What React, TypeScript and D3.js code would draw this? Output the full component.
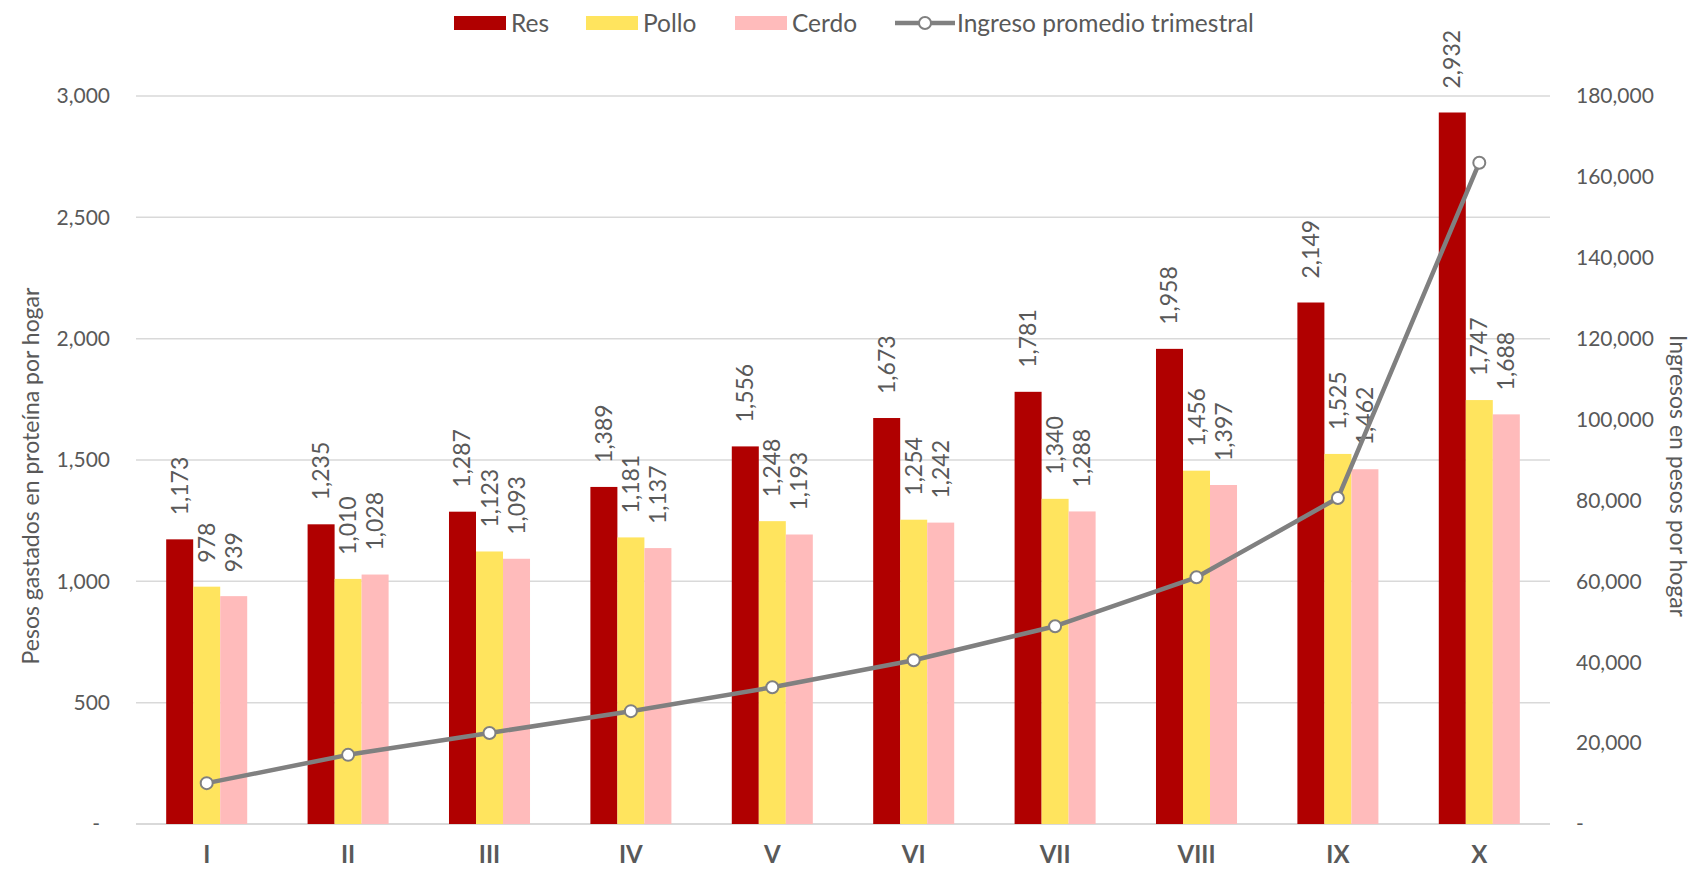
import React from "react";
import * as d3 from "d3";

const categories = ["I", "II", "III", "IV", "V", "VI", "VII", "VIII", "IX", "X"];
const res = [1173, 1235, 1287, 1389, 1556, 1673, 1781, 1958, 2149, 2932];
const pollo = [978, 1010, 1123, 1181, 1248, 1254, 1340, 1456, 1525, 1747];
const cerdo = [939, 1028, 1093, 1137, 1193, 1242, 1288, 1397, 1462, 1688];
const ingreso = [10100, 17100, 22500, 27900, 33800, 40500, 48900, 61000, 80600, 163500];
const leftTicks = [0, 500, 1000, 1500, 2000, 2500, 3000];
const rightTicks = [0, 20000, 40000, 60000, 80000, 100000, 120000, 140000, 160000, 180000];
const seriesNames = ["Res", "Pollo", "Cerdo"];
const lineName = "Ingreso promedio trimestral";
const leftTitle = "Pesos gastados en proteína por hogar";
const rightTitle = "Ingresos en pesos por hogar";

const COLORS = ["#B00000", "#FFE45E", "#FFBBBB"];
const LINE_COLOR = "#808080";
const TEXT = "#595959";
const FONT = "Lato, 'Open Sans', sans-serif";

export default function App() {
  const W = 1696, H = 869;
  const left = 136, right = 1550, top = 96, bottom = 824;
  const fmt = d3.format(",");

  const x0 = d3.scaleBand<string>().domain(categories).range([left, right]).paddingInner(0.427).paddingOuter(0.2135);
  const x1 = d3.scaleBand<string>().domain(seriesNames).range([0, x0.bandwidth()]);
  const y = d3.scaleLinear().domain([0, 3000]).range([bottom, top]);
  const yR = d3.scaleLinear().domain([0, 180000]).range([bottom, top]);

  const seriesData = [res, pollo, cerdo];
  const cx = (c: string) => (x0(c) as number) + x0.bandwidth() / 2;

  const line = d3.line<number>()
    .x((_, i) => cx(categories[i]))
    .y((d) => yR(d));

  const legendX = [454, 586, 735];
  const lineLegendX = 895;

  return (
    <svg width={W} height={H} style={{ position: "absolute", left: 0, top: 0, background: "#fff" }} fontFamily={FONT}>
      {leftTicks.map((t) => (
        <line key={"g" + t} x1={left} x2={right} y1={y(t)} y2={y(t)} stroke="#D9D9D9" strokeWidth={t === 0 ? 2 : 1.5} />
      ))}
      {leftTicks.map((t) => (
        <text key={"lt" + t} x={t === 0 ? 100 : 110} y={y(t)} dy="0.35em" textAnchor="end" fontSize={21} fill={TEXT}>
          {t === 0 ? "-" : fmt(t)}
        </text>
      ))}
      {rightTicks.map((t) => (
        <text key={"rt" + t} x={1576} y={yR(t)} dy="0.35em" textAnchor="start" fontSize={21} fill={TEXT}>
          {t === 0 ? "-" : fmt(t)}
        </text>
      ))}
      {seriesData.map((vals, si) =>
        vals.map((v, i) => {
          const c = categories[i];
          const bx = (x0(c) as number) + (x1(seriesNames[si]) as number);
          return (
            <rect key={`b${si}-${i}`} x={bx} y={y(v)} width={x1.bandwidth()} height={bottom - y(v)} fill={COLORS[si]} />
          );
        })
      )}
      {seriesData.map((vals, si) =>
        vals.map((v, i) => {
          const c = categories[i];
          const bcx = (x0(c) as number) + (x1(seriesNames[si]) as number) + x1.bandwidth() / 2;
          const ly = y(v) - 24;
          return (
            <text key={`l${si}-${i}`} transform={`translate(${bcx + 8},${ly}) rotate(-90)`} textAnchor="start" fontSize={23} fill={TEXT}>
              {fmt(v)}
            </text>
          );
        })
      )}
      <path d={line(ingreso) as string} fill="none" stroke={LINE_COLOR} strokeWidth={4.5} strokeLinejoin="round" />
      {ingreso.map((v, i) => (
        <circle key={"m" + i} cx={cx(categories[i])} cy={yR(v)} r={6} fill="#fff" stroke={LINE_COLOR} strokeWidth={2} />
      ))}
      {categories.map((c) => (
        <text key={"c" + c} x={cx(c)} y={863} textAnchor="middle" fontSize={24} fontWeight={700} fill={TEXT}>
          {c}
        </text>
      ))}
      <text transform={`translate(39,476) rotate(-90)`} textAnchor="middle" fontSize={23} fill={TEXT}>
        {leftTitle}
      </text>
      <text transform={`translate(1670,476) rotate(90)`} textAnchor="middle" fontSize={23} fill={TEXT}>
        {rightTitle}
      </text>
      {seriesNames.map((n, i) => (
        <g key={"lg" + n}>
          <rect x={legendX[i]} y={16} width={52} height={14} fill={COLORS[i]} />
          <text x={legendX[i] + 57} y={23} dy="0.35em" fontSize={24.5} fill={TEXT}>
            {n}
          </text>
        </g>
      ))}
      <line x1={lineLegendX} x2={lineLegendX + 60} y1={23} y2={23} stroke={LINE_COLOR} strokeWidth={4.5} />
      <circle cx={lineLegendX + 30} cy={23} r={6} fill="#fff" stroke={LINE_COLOR} strokeWidth={2} />
      <text x={lineLegendX + 62} y={23} dy="0.35em" fontSize={24.5} fill={TEXT}>
        {lineName}
      </text>
    </svg>
  );
}
